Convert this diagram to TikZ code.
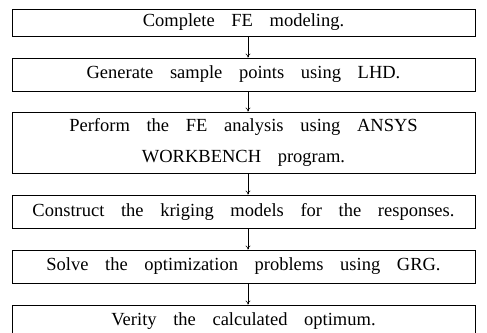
\documentclass[tikz,border=0pt]{standalone}
\usepackage{fontspec}
\setmainfont{Liberation Serif}
\usetikzlibrary{arrows.meta}
\newcommand\stepfont{\fontsize{18.5}{31}\selectfont\spaceskip=0.9em\relax}
\begin{document}
\begin{tikzpicture}[x=1pt,y=-1pt,
  stepbox/.style={draw=black,line width=0.9pt,minimum width=463pt,inner sep=0pt,
    font=\stepfont,align=center},
  flow/.style={-{To[length=4pt,width=5pt]},line width=0.6pt}]
\useasboundingbox (0,0) rectangle (487,332);
\node[stepbox,minimum height=27pt] (s1) at (243.5,22.5) {Complete FE modeling.};
\node[stepbox,minimum height=33pt] (s2) at (243.5,74.5) {Generate sample points using LHD.};
\node[stepbox,minimum height=61pt] (s3) at (243.5,142.5) {Perform the FE analysis using ANSYS\\WORKBENCH program.};
\node[stepbox,minimum height=33pt] (s4) at (243.5,211.5) {Construct the kriging models for the responses.};
\node[stepbox,minimum height=33pt] (s5) at (243.5,266.5) {Solve the optimization problems using GRG.};
\node[stepbox,minimum height=33pt] (s6) at (243.5,321.5) {Verity the calculated optimum.};
\foreach \a/\b in {s1/s2,s2/s3,s3/s4,s4/s5,s5/s6}
  \draw[flow] ([xshift=4.5pt]\a.south) -- ([xshift=4.5pt]\b.north);
\end{tikzpicture}
\end{document}
